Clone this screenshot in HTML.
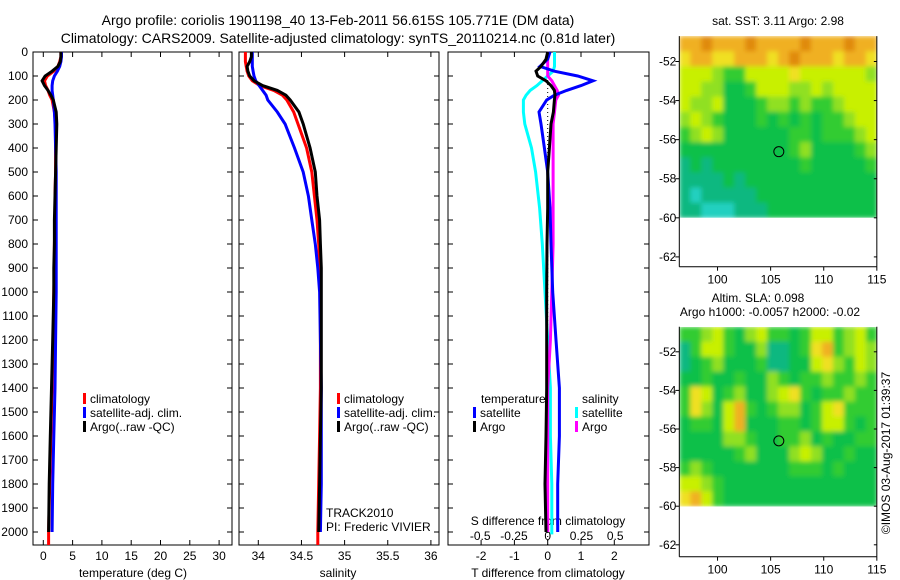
<!DOCTYPE html>
<html><head><meta charset="utf-8"><style>
html,body{margin:0;padding:0;background:#fff}
svg{display:block;font-family:"Liberation Sans",Arial,sans-serif}
</style></head><body>
<svg id="s" width="900" height="580" viewBox="0 0 900 580" xmlns="http://www.w3.org/2000/svg">
<defs>
<filter id="blur" x="0" y="0" width="1" height="1"><feGaussianBlur stdDeviation="2.5" edgeMode="duplicate"/></filter>
<clipPath id="clipTop"><rect x="679.3" y="36" width="197.5" height="181.8"/></clipPath>
<clipPath id="clipBot"><rect x="679.3" y="327" width="197.5" height="179.5"/></clipPath>
</defs>
<text x="338" y="25" font-size="14" text-anchor="middle">Argo profile: coriolis 1901198_40 13-Feb-2011 56.615S 105.771E (DM data)</text>
<text x="338" y="43" font-size="14" text-anchor="middle">Climatology: CARS2009. Satellite-adjusted climatology: synTS_20110214.nc (0.81d later)</text>
<g id="g"></g>
</svg>
<script>
// ---- data ----
const depthTS=[0,20,40,60,80,100,120,140,160,180,200,250,300,400,500,600,700,800,900,1000,1200,1400,1600,1800,2000];
const tempClim=[3.0,3.0,2.8,2.5,1.8,0.7,0.2,0.4,0.8,1.1,1.5,1.9,2.1,2.1,2.1,2.0,2.0,1.9,1.9,1.8,1.7,1.5,1.3,1.1,0.9];
const tempArgo=[3.0,3.0,2.9,2.5,1.5,0.3,-0.2,0.2,0.8,1.3,1.7,2.2,2.3,2.2,2.1,2.0,1.9,1.9,1.8,1.8,1.6,1.4,1.2,1.0,0.9];
const tempSat=[3.1,3.1,3.0,2.8,2.4,1.9,1.6,1.5,1.5,1.6,1.7,1.9,2.0,2.1,2.2,2.2,2.2,2.2,2.2,2.2,2.1,2.0,1.8,1.6,1.5];
const salClim=[33.85,33.85,33.85,33.86,33.87,33.89,33.93,34.02,34.18,34.28,34.33,34.41,34.46,34.56,34.62,34.65,34.68,34.70,34.71,34.72,34.72,34.72,34.71,34.70,34.69];
const salArgo=[33.92,33.92,33.90,33.87,33.88,33.90,33.95,34.05,34.22,34.32,34.37,34.47,34.52,34.60,34.66,34.68,34.71,34.72,34.73,34.73,34.73,34.73,34.72,34.71,34.70];
const salSat=[33.93,33.93,33.93,33.93,33.94,33.95,33.97,34.01,34.05,34.09,34.11,34.22,34.31,34.42,34.52,34.58,34.62,34.66,34.69,34.71,34.72,34.73,34.73,34.73,34.72];
const depthDiff=[0,30,60,80,100,120,140,160,180,200,250,300,400,500,650,800,1000,1200,1400,1600,1800,2000];
const tDiffSat=[0.07,0.0,-0.23,0.2,0.9,1.36,1.0,0.57,0.2,-0.03,-0.26,-0.2,-0.1,0.0,0.07,0.1,0.15,0.25,0.35,0.35,0.3,0.3];
const tDiffArgo=[0.0,-0.05,-0.2,-0.35,-0.3,-0.05,0.1,0.2,0.22,0.2,0.17,0.1,0.05,0.0,0.0,-0.02,-0.03,-0.03,-0.03,-0.05,-0.08,-0.05];
const sDiffSat=[0.05,0.05,0.05,0.04,0.0,-0.04,-0.08,-0.13,-0.16,-0.18,-0.18,-0.17,-0.12,-0.09,-0.06,-0.04,-0.02,0.0,0.02,0.02,0.03,0.03];
const sDiffArgo=[0.01,0.0,0.0,0.0,0.0,0.03,0.05,0.07,0.08,0.06,0.05,0.04,0.04,0.04,0.04,0.04,0.03,0.02,0.0,0.0,0.0,0.0];
const depthTicks=[0,100,200,300,400,500,600,700,800,900,1000,1100,1200,1300,1400,1500,1600,1700,1800,1900,2000];
const tempTicks=[0,5,10,15,20,25,30];
const salTicks=[34,34.5,35,35.5,36];
const tDiffTicks=[-2,-1,0,1,2];
const sDiffTicks=[-0.5,-0.25,0,0.25,0.5];
const latTicks=[-52,-54,-56,-58,-60,-62];
const lonTicks=[100,105,110,115];
const sstGrid=[
[8,8,9,8,8,8,9,8,8,8,8,9,8,8,8,9,8,8],
[7,8,8,7,7,8,8,8,7,8,9,8,8,8,7,8,8,7],
[6,6,6,5,4,4,6,6,6,6,7,6,6,6,6,6,6,5],
[6,6,5,5,3,3,4,6,6,6,5,5,6,5,6,6,6,6],
[6,5,5,6,3,3,3,4,5,5,4,5,4,4,5,6,6,6],
[5,6,5,4,3,3,3,4,3,4,3,4,3,4,4,5,6,6],
[4,5,6,5,3,3,3,3,3,3,4,4,3,4,4,4,5,6],
[3,3,3,3,3,3,3,3,3,3,4,5,3,3,3,3,4,5],
[2,3,2,3,3,3,3,3,3,3,3,4,3,3,3,3,3,4],
[2,2,2,2,3,2,3,3,3,3,3,3,3,3,3,3,3,3],
[2,1,2,2,2,2,2,3,3,3,3,3,3,3,3,3,3,3],
[2,2,1,1,1,2,2,2,3,3,3,3,3,3,3,3,3,3]];
const slaGrid=[
[4,4,5,6,4,3,5,6,4,4,3,4,6,6,4,5,6,4],
[2,4,6,6,4,3,3,5,2,2,3,4,7,8,4,5,6,5],
[2,3,4,5,3,3,3,4,2,2,3,3,6,7,5,4,6,5],
[3,3,4,3,3,4,3,3,5,4,3,4,4,5,4,4,5,4],
[4,7,6,3,4,5,3,3,5,6,7,4,3,4,4,5,4,4],
[4,7,5,3,6,8,4,3,4,5,5,3,4,6,7,4,4,4],
[3,4,4,3,6,8,3,3,3,4,4,3,4,6,6,4,3,4],
[3,3,3,3,5,5,4,3,3,4,4,5,3,4,3,3,4,4],
[3,3,3,3,3,4,5,3,3,3,5,6,5,3,3,4,3,3],
[4,5,4,3,3,3,3,3,3,3,4,4,4,3,4,3,3,3],
[6,6,5,4,3,3,3,3,3,3,3,3,3,3,3,3,3,3],
[7,8,6,4,3,3,3,3,3,3,3,3,3,3,3,3,3,3]];
const argoLon=105.771, argoLat=-56.615;

const cmap=['#30b8f0','#20d0c0','#10b880','#10c048','#30cc30','#90e020','#c8f000','#f0e020','#f0b020','#e08a10'];
const NS='http://www.w3.org/2000/svg';
const G=document.getElementById('g');
function el(t,a,p){const e=document.createElementNS(NS,t);for(const k in a)e.setAttribute(k,a[k]);(p||G).appendChild(e);return e;}
function txt(x,y,s,a,p){const e=el('text',Object.assign({x:x,y:y,'font-size':12},a||{}),p);e.textContent=s;return e;}
const yD=d=>52+d*0.24;
const xT=v=>43.3+v*5.86;
const xS=v=>258.3+(v-34)*86.3;
const xTd=v=>547.7+v*33.3;
const xSd=v=>547.7+v*135;

function frame(x0,x1,name,yl){
  const g=el('g',{});
  
  
  el('rect',{x:x0,y:52,width:x1-x0,height:493,fill:'none',stroke:'#000','stroke-width':1},g);
  depthTicks.forEach(d=>{
    el('line',{x1:x0,x2:x0+5,y1:yD(d),y2:yD(d),stroke:'#000'},g);
    el('line',{x1:x1-5,x2:x1,y1:yD(d),y2:yD(d),stroke:'#000'},g);
    if(yl){const t=txt(28,yD(d)+4,String(d),{'text-anchor':'end'},g);
      
      }
  });
  return g;
}
function xticks(g,ticks,fx,ylab,fmt){
  ticks.forEach(v=>{const x=fx(v);
    el('line',{x1:x,x2:x,y1:52,y2:57,stroke:'#000'},g);
    el('line',{x1:x,x2:x,y1:540,y2:545,stroke:'#000'},g);
    const t=txt(x,ylab,fmt?fmt(v):String(v),{'text-anchor':'middle'},g);
    
    
  });
}
function series(xs,ds,fx,color,name,maxD){
  const pts=[];
  xs.forEach((v,i)=>{ if(ds[i]<=maxD) pts.push(fx(v).toFixed(1)+','+yD(ds[i]).toFixed(1)); });
  pts.push(fx(xs[xs.length-1]).toFixed(1)+','+yD(maxD).toFixed(1));
  const p=el('polyline',{points:pts.join(' '),fill:'none',stroke:color,'stroke-width':3,'stroke-linejoin':'miter'});
  
  
}
function legend(x,y,entries,gname,titleX){
  const g=el('g',{});
  
  
  entries.forEach((e,i)=>{
    if(e[1]) el('rect',{x:x,y:y+i*14-10,width:3,height:11,fill:e[1]},g);
    const t=txt(e[1]?x+7:titleX,y+i*14,e[0],{},g);
    
    
  });
}

// Panel 1 temperature
const g1=frame(33,232,'temperature-panel',true);
xticks(g1,tempTicks,xT,560);
txt(133,577,'temperature (deg C)',{'text-anchor':'middle',});
series(tempClim,depthTS,xT,'#ff0000','temp-climatology-line',2054);
series(tempSat,depthTS,xT,'#0000ff','temp-satellite-line',2000);
series(tempArgo,depthTS,xT,'#000000','temp-argo-line',2000);
legend(83,403,[['climatology','#f00'],['satellite-adj. clim.','#00f'],['Argo(..raw -QC)','#000']],'temperature-legend');

// Panel 2 salinity
const g2=frame(239,439,'salinity-panel',false);
xticks(g2,salTicks,xS,560);
txt(338,577,'salinity',{'text-anchor':'middle',});
series(salClim,depthTS,xS,'#ff0000','sal-climatology-line',2054);
series(salSat,depthTS,xS,'#0000ff','sal-satellite-line',2000);
series(salArgo,depthTS,xS,'#000000','sal-argo-line',2000);
legend(337,403,[['climatology','#f00'],['satellite-adj. clim.','#00f'],['Argo(..raw -QC)','#000']],'salinity-legend');
txt(326,517,'TRACK2010',{});
txt(326,531,'PI: Frederic VIVIER',{});

// Panel 3 differences
const g3=frame(448,649,'difference-panel',false);
xticks(g3,tDiffTicks,xTd,560);
el('line',{x1:xTd(0),x2:xTd(0),y1:52,y2:545,stroke:'#000','stroke-dasharray':'1,3'});
sDiffTicks.forEach(v=>{const t=txt(xSd(v),540,String(v),{'text-anchor':'middle'});
  
  });
txt(548,525,'S difference from climatology',{'text-anchor':'middle',});
txt(548,577,'T difference from climatology',{'text-anchor':'middle',});
series(sDiffSat,depthDiff,xSd,'#00ffff','s-diff-satellite-line',2010);
series(sDiffArgo,depthDiff,xSd,'#ff00ff','s-diff-argo-line',2000);
series(tDiffSat,depthDiff,xTd,'#0000ff','t-diff-satellite-line',2000);
series(tDiffArgo,depthDiff,xTd,'#000000','t-diff-argo-line',2000);
legend(473,403,[['temperature',null],['satellite','#00f'],['Argo','#000']],'t-diff-legend',481);
legend(575,403,[['salinity',null],['satellite','#0ff'],['Argo','#f0f']],'s-diff-legend',582);

// Maps
const lonL=96.4, lonR=115, latTop=-50.7, latBot=-60;
function map(grid,yPx,latRef,scale,frameBot,name,clip){
  const xL=v=>679.3+(v-lonL)*10.62;
  const yL=v=>yPx+(latRef-v)*scale;
  const g=el('g',{});
  
  
  const cg=el('g',{'clip-path':'url(#'+clip+')'},g);
  const ig=el('g',{filter:'url(#blur)'},cg);
  const rows=grid.length, cols=grid[0].length;
  const dLat=(latTop-latBot)/rows, dLon=(lonR-lonL)/cols;
  grid.forEach((row,r)=>row.forEach((v,c)=>{
    const x0=xL(lonL+c*dLon), y0=yL(latTop-r*dLat);
    const cell=el('rect',{x:x0.toFixed(2),y:y0.toFixed(2),width:(dLon*10.62+0.6).toFixed(2),height:(dLat*scale+0.6).toFixed(2),fill:cmap[v]},ig);
    
    
  }));
  const x0=xL(lonL), x1=xL(lonR);
  el('line',{x1:x0,x2:x0,y1:yL(latTop),y2:frameBot,stroke:'#000'},g);
  el('line',{x1:x0,x2:x1,y1:frameBot,y2:frameBot,stroke:'#000'},g);
  el('line',{x1:x1,x2:x1,y1:yL(latTop),y2:frameBot,stroke:'#000'},g);
  latTicks.forEach(v=>{const y=yL(v);
    el('line',{x1:x0-4,x2:x0,y1:y,y2:y,stroke:'#000'},g);
    el('line',{x1:x1-3,x2:x1,y1:y,y2:y,stroke:'#000'},g);
    const t=txt(x0-3,y+4,String(v),{'text-anchor':'end'},g);
    
    });
  lonTicks.forEach(v=>{const x=xL(v);
    el('line',{x1:x,x2:x,y1:frameBot,y2:frameBot+4,stroke:'#000'},g);
    const t=txt(x,frameBot+17,String(v),{'text-anchor':'middle'},g);
    
    });
  const c=el('circle',{cx:xL(argoLon),cy:yL(argoLat),r:5,fill:'none',stroke:'#000','stroke-width':1},g);
  
  
}
map(sstGrid,61.5,-52,19.54,266.7,'sst-map','clipTop');
map(slaGrid,351.8,-52,19.3,556.7,'sla-map','clipBot');
txt(778,25,'sat. SST: 3.11 Argo: 2.98',{'text-anchor':'middle',});
txt(758,302,'Altim. SLA: 0.098',{'text-anchor':'middle',});
txt(770,316,'Argo h1000: -0.0057 h2000: -0.02',{'text-anchor':'middle',});
txt(0,0,'©IMOS 03-Aug-2017 01:39:37',{'text-anchor':'middle',transform:'translate(890,453) rotate(-90)',});
</script>
</body></html>
